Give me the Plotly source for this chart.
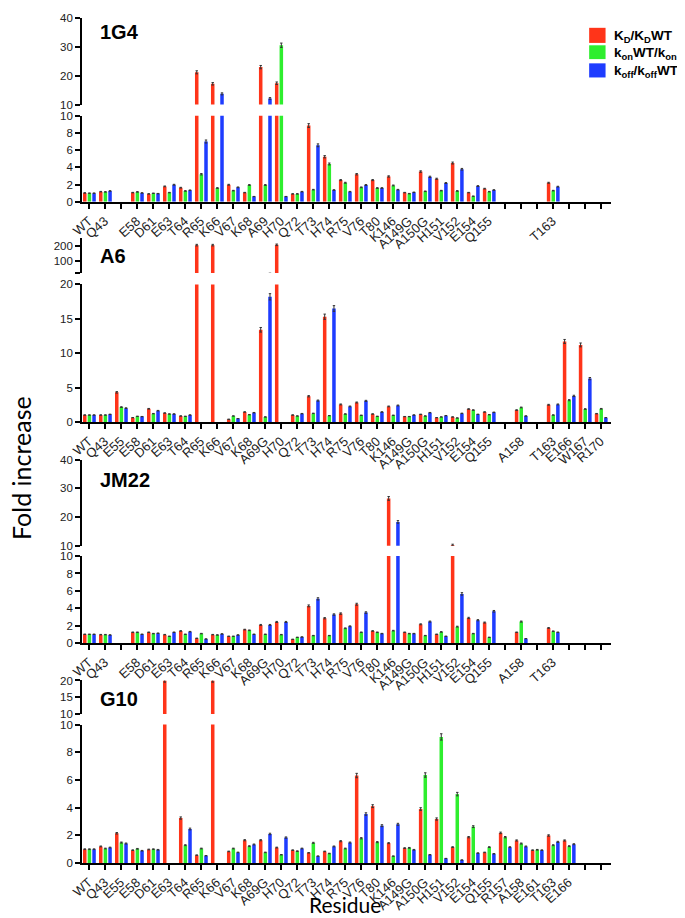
import plotly.graph_objects as go

N = None
W, H = 685, 918

# ---------------- data ----------------
labels_1G4 = ["WT","Q43","","E58","D61","E63","T64","R65","K66","V67","K68","A69","H70","Q72","T73","H74","R75","V76","T80","K146","A149G","A150G","H151","V152","E154","Q155","","","","T163","","",""]
kd_1G4   = [1.03,1.18,N,1.07,0.92,1.79,1.64,21.2,17.2,1.98,1.07,23.0,17.4,0.92,8.85,5.23,2.52,3.2,2.52,2.94,1.07,3.51,2.67,4.5,1.07,1.53,N,N,N,2.21,N,N,N]
kon_1G4  = [1.0,1.15,N,1.15,0.99,1.07,1.26,3.2,1.6,1.3,1.95,1.95,30.6,0.92,1.41,4.39,2.21,1.68,1.6,1.9,0.95,1.22,1.3,1.26,0.65,1.18,N,N,N,1.3,N,N,N]
koff_1G4 = [1.0,1.26,N,1.03,0.95,1.98,1.34,7.0,13.7,1.68,0.61,12.1,0.61,1.18,6.56,1.37,1.18,1.95,1.6,1.41,1.1,2.9,2.18,3.78,1.83,1.37,N,N,N,1.76,N,N,N]

labels_A6 = ["WT","Q43","E55","E58","D61","E63","T64","R65","K66","V67","K68","A69G","H70","Q72","T73","H74","R75","V76","T80","K146","A149G","A150G","H151","V152","E154","Q155","","A158","","T163","E166","W167","R170"]
kd_A6   = [1.0,1.0,4.3,0.62,1.91,1.29,0.86,205,205,0.38,1.44,13.4,207,1.0,3.73,15.3,2.54,2.82,1.15,2.25,0.77,1.1,0.62,0.72,1.87,1.44,N,1.72,N,2.49,11.7,11.2,1.2]
kon_A6  = [1.0,1.0,2.15,0.81,1.2,1.15,0.81,N,N,0.86,1.05,0.72,N,0.86,1.24,0.91,1.15,0.96,0.81,0.96,0.77,0.86,0.72,0.57,1.72,1.05,N,2.1,N,1.0,3.16,1.87,1.91]
koff_A6 = [1.0,1.1,2.0,0.77,1.63,1.15,1.0,N,N,0.48,1.34,18.2,N,1.2,3.1,16.5,2.25,3.06,1.44,2.39,1.0,1.34,0.91,1.24,1.1,1.39,N,0.86,N,2.54,3.78,6.3,0.62]

labels_JM22 = ["WT","Q43","","E58","D61","E63","T64","R65","K66","V67","K68","A69G","H70","Q72","T73","H74","R75","V76","T80","K146","A149G","A150G","H151","V152","E154","Q155","","A158","","T163","","",""]
kd_JM22   = [1.0,0.96,N,1.23,1.23,0.96,1.38,0.54,0.96,0.77,1.54,2.08,2.42,0.42,4.27,2.85,3.38,4.46,1.38,26.5,1.23,2.15,1.0,10.25,2.88,2.35,N,1.23,N,1.73,N,N,N]
kon_JM22  = [1.0,0.96,N,1.23,1.08,0.77,1.0,1.08,0.92,0.77,1.46,1.0,0.96,0.65,0.85,0.85,1.69,1.23,1.23,1.42,1.08,0.85,1.27,1.88,1.08,0.65,N,2.46,N,1.35,N,N,N]
koff_JM22 = [1.0,0.92,N,1.0,1.12,1.23,1.3,0.46,1.04,0.92,1.0,2.08,2.42,0.69,5.08,3.27,1.92,3.5,1.08,18.3,1.08,2.46,0.77,5.65,2.62,3.65,N,0.5,N,1.23,N,N,N]

labels_G10 = ["WT","Q43","E55","E58","D61","E63","T64","R65","K66","V67","K68","A69G","H70","Q72","T73","H74","R75","V76","T80","K146","A149G","A150G","H151","V152","E154","Q155","R157","A158","E161","T163","E166","",""]
kd_G10   = [1.0,1.2,2.15,0.93,0.98,20,3.25,0.57,20,0.84,1.65,1.65,1.12,0.93,0.74,0.84,1.58,6.32,4.11,1.44,1.08,3.9,3.18,1.15,1.87,0.77,2.18,1.63,0.93,1.99,1.63,N,N]
kon_G10  = [1.0,1.05,1.48,1.03,1.0,N,1.29,1.05,N,1.05,1.22,0.77,0.6,0.86,1.46,0.69,1.05,1.79,1.51,0.5,1.1,6.36,9.11,4.98,2.63,1.15,1.87,1.41,0.96,1.29,1.22,N,N]
koff_G10 = [1.0,1.12,1.41,0.89,0.96,N,2.46,0.53,N,0.77,1.34,2.1,1.84,1.05,0.5,1.2,1.48,3.54,2.7,2.8,0.96,0.6,0.33,0.22,0.72,0.67,1.15,1.2,0.93,1.53,1.36,N,N]

series_names = ["<b>K<sub>D</sub>/K<sub>D</sub>WT</b>", "<b>k<sub>on</sub>WT/k<sub>on</sub></b>", "<b>k<sub>off</sub>/k<sub>off</sub>WT</b>"]
colors = ["#FF3419", "#2EEE2E", "#1E3CFF"]

panels = [
    dict(name="1G4", labels=labels_1G4, vals=[kd_1G4, kon_1G4, koff_1G4],
         up=(4.3, 91.7, [10, 40], [10, 20, 30, 40], []),
         lo=(103, 190.3, [0, 10], [0, 2, 4, 6, 8, 10], []), ty=18.5),
    dict(name="A6", labels=labels_A6, vals=[kd_A6, kon_A6, koff_A6],
         up=(227.3, 262.5, [20, 250], [100, 200], [20]),
         lo=(274, 413.3, [0, 20], [0, 5, 10, 15, 20], []), ty=245.5),
    dict(name="JM22", labels=labels_JM22, vals=[kd_JM22, kon_JM22, koff_JM22],
         up=(451.7, 538.7, [10, 40], [10, 20, 30, 40], []),
         lo=(549.3, 637.3, [0, 10], [0, 2, 4, 6, 8, 10], []), ty=472),
    dict(name="G10", labels=labels_G10, vals=[kd_G10, kon_G10, koff_G10],
         up=(675.3, 709.3, [10, 20], [10, 15, 20], []),
         lo=(720, 860.3, [0, 10], [0, 2, 4, 6, 8, 10], []), ty=694.5),
]

# ---------------- layout helpers ----------------
def fy(py):
    return 1 - py / H

def fx(px):
    return px / W

XDOM = [fx(63), fx(602)]
XRANGE = [-0.43, 32.68]
offsets = [-0.36, -0.07, 0.22]
BW = 0.22
ERR_FRAC = 0.025
tickfont = dict(family="Liberation Sans, Arial", size=11.5, color="#222")
tickstyle = dict(ticks="outside", ticklen=5, tickwidth=1.5, tickcolor="black")

fig = go.Figure()
layout = {}

for pi, p in enumerate(panels):
    xi = pi + 1
    xname = "x" if xi == 1 else f"x{xi}"
    ylo_i = 2 * pi + 1
    yup_i = 2 * pi + 2
    ylo = "y" if ylo_i == 1 else f"y{ylo_i}"
    yup = f"y{yup_i}"
    xs = list(range(len(p["labels"])))

    for seg, yname in (("lo", ylo), ("up", yup)):
        lo_v, hi_v = p[seg][2]
        for si in range(3):
            vals = p["vals"][si]
            # small error caps only where the bar top is inside this segment
            errs = [(v * ERR_FRAC if (v is not None and lo_v <= v <= hi_v) else None) for v in vals]
            fig.add_trace(go.Bar(
                x=xs, y=vals, xaxis=xname, yaxis=yname,
                width=BW, offset=offsets[si],
                marker=dict(color=colors[si], line=dict(width=0)),
                error_y=dict(type="data", array=errs, visible=True, thickness=1, width=1.2, color="#333"),
                name=series_names[si], showlegend=False,
            ))

    lab_idx = [i for i, t in enumerate(p["labels"]) if t]
    layout[f"xaxis{'' if xi == 1 else xi}"] = dict(
        domain=XDOM, range=XRANGE, anchor=ylo, showgrid=False, zeroline=False,
        showline=True, linecolor="black", linewidth=1.5, **tickstyle,
        tickmode="array", tickvals=lab_idx, ticktext=[p["labels"][i] for i in lab_idx], tickangle=-42,
        tickfont=dict(family="Liberation Sans, Arial", size=13, color="#222"),
        minor=dict(tickmode="array", tickvals=xs, **tickstyle),
    )
    for seg, yi in (("lo", ylo_i), ("up", yup_i)):
        top, bot, rng, tv, minor_tv = p[seg]
        ax = dict(
            domain=[fy(bot), fy(top)], range=rng, anchor=xname, showgrid=False,
            zeroline=False, showline=True, linecolor="black", linewidth=1.5, **tickstyle,
            tickmode="array", tickvals=tv, ticktext=[str(v) for v in tv], tickfont=tickfont,
        )
        if minor_tv:
            ax["minor"] = dict(tickmode="array", tickvals=minor_tv, **tickstyle)
        layout[f"yaxis{'' if yi == 1 else yi}"] = ax

annotations = []
shapes = []
for p in panels:
    annotations.append(dict(text=f"<b>{p['name']}</b>", x=fx(79), y=fy(p["ty"]), xref="paper", yref="paper",
                            xanchor="left", yanchor="middle", showarrow=False,
                            font=dict(family="Liberation Sans, Arial", size=20, color="black")))
annotations.append(dict(text="Fold increase", x=fx(1), y=fy(460), xref="paper", yref="paper",
                        textangle=-90, showarrow=False, xanchor="center", yanchor="middle",
                        font=dict(family="Lato", size=25, color="black")))
annotations.append(dict(text="Residue", x=fx(331), y=fy(902), xref="paper", yref="paper",
                        showarrow=False, xanchor="center", yanchor="middle",
                        font=dict(family="Lato", size=21, color="black")))

# legend (square swatches + labels)
legend_rows = [(14, 29.3), (31.7, 45.7), (50, 64.3)]
for si, (t, b) in enumerate(legend_rows):
    shapes.append(dict(type="rect", xref="paper", yref="paper", x0=fx(579.3), x1=fx(596), y0=fy(b), y1=fy(t),
                       fillcolor=colors[si], line=dict(width=0)))
    annotations.append(dict(text=series_names[si], x=fx(603), y=fy((t + b) / 2 + 1), xref="paper", yref="paper",
                            xanchor="left", yanchor="middle", showarrow=False,
                            font=dict(family="Liberation Sans, Arial", size=13.5, color="black")))

fig.update_layout(
    width=W, height=H, margin=dict(l=0, r=0, t=0, b=0),
    paper_bgcolor="white", plot_bgcolor="white",
    barmode="overlay", showlegend=False,
    annotations=annotations, shapes=shapes,
    **layout,
)

fig.write_html("out.html")
